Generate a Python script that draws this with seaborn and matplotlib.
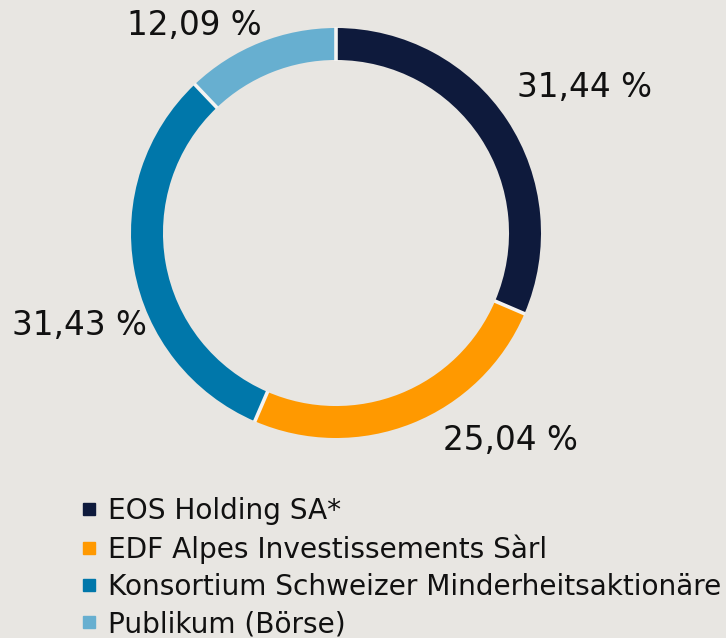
import matplotlib
matplotlib.use("Agg")
import matplotlib.pyplot as plt
from matplotlib.lines import Line2D
import numpy as np
import seaborn as sns

# ---- data ----
categories = ["EOS Holding SA*", "EDF Alpes Investissements Sàrl",
              "Konsortium Schweizer Minderheitsaktionäre", "Publikum (Börse)"]
shares = [31.44, 25.04, 31.43, 12.09]
share_labels = ["31,44 %", "25,04 %", "31,43 %", "12,09 %"]
colors = ["#0E1A3C", "#FF9900", "#0077AA", "#67AFD0"]

# label positions (in pie-radius units, relative to centre)
label_pos = [(1.21, 0.71), (0.85, -1.01), (-1.25, -0.45), (-0.69, 1.01)]

BG = "#E8E6E2"
sns.set_theme(style="white")
plt.rcParams["font.family"] = ["DejaVu Sans"]

W, H = 726, 638
fig = plt.figure(figsize=(W / 100, H / 100), dpi=100, facecolor=BG)
ax = fig.add_axes([0, 0, 1, 1])
ax.set_facecolor(BG)

RING = 0.156
wedges, _ = ax.pie(shares, colors=colors, startangle=90, counterclock=False,
                   radius=1.0, wedgeprops=dict(width=RING, linewidth=0))

# separators between segments
bounds = 90 - np.cumsum([0] + shares[:-1]) / sum(shares) * 360
for a in np.deg2rad(bounds):
    ax.plot([(1 - RING - 0.003) * np.cos(a), 1.003 * np.cos(a)],
            [(1 - RING - 0.003) * np.sin(a), 1.003 * np.sin(a)],
            color="#F4F3F1", lw=2.6, solid_capstyle="butt")

for (x, y), t in zip(label_pos, share_labels):
    ax.text(x, y, t, fontsize=23.5, ha="center", va="center", color="#111111")

cx, cy, r = 336, 233, 205
ax.set_xlim(-cx / r, (W - cx) / r)
ax.set_ylim(-(H - cy) / r, cy / r)
ax.set_aspect("auto")
ax.axis("off")

handles = [Line2D([], [], marker="s", linestyle="", color=c, markersize=8) for c in colors]
leg = fig.legend(handles, categories, loc="upper left",
                 bbox_to_anchor=(81 / W, 1 - 497 / H), frameon=False,
                 fontsize=20.2, handlelength=0.6, handletextpad=0.35,
                 labelspacing=0.33, borderaxespad=0, borderpad=0)
for t in leg.get_texts():
    t.set_color("#111111")

fig.savefig("out.png", dpi=100, facecolor=BG)
